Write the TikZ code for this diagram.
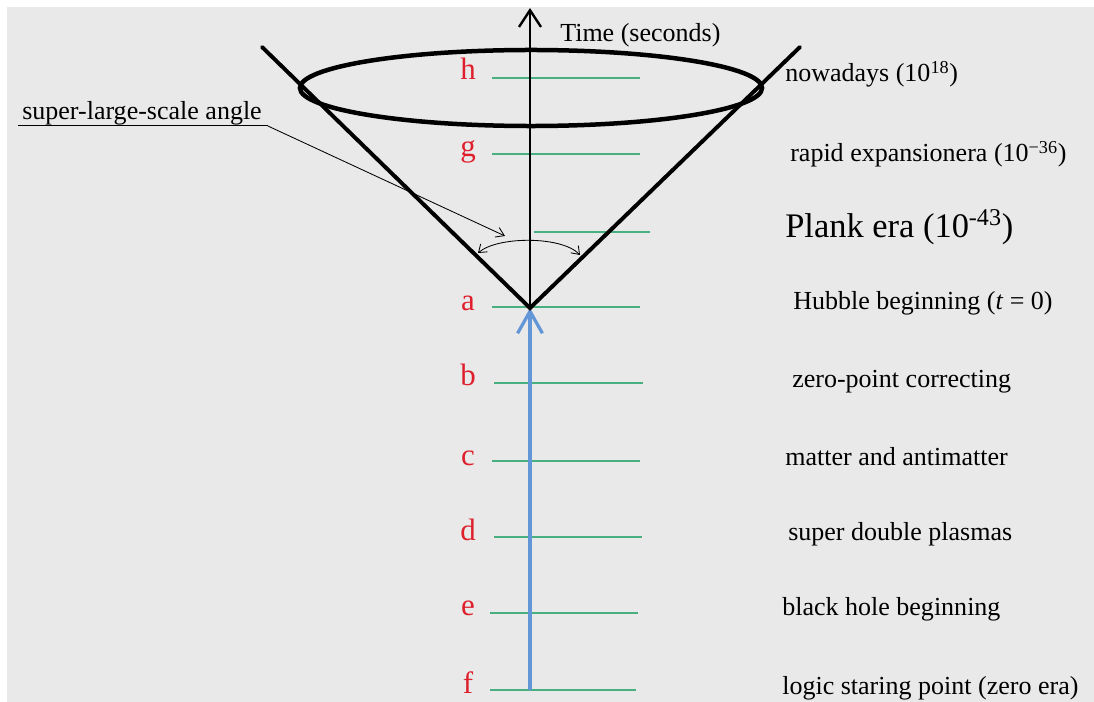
\documentclass[tikz,border=0pt]{standalone}
\usepackage{fontspec}
\setmainfont{Liberation Serif}
\usetikzlibrary{arrows.meta}
\definecolor{bggray}{RGB}{233,233,233}
\definecolor{eragreen}{RGB}{72,176,128}
\definecolor{erared}{RGB}{222,32,45}
\definecolor{flowblue}{RGB}{98,150,214}
\tikzset{
    era/.style={eragreen, line width=1.6pt},
    letter/.style={erared, anchor=base, inner sep=0pt, font=\fontsize{22}{26}\selectfont},
    event/.style={anchor=base west, inner sep=0pt, font=\fontsize{18.5}{22}\selectfont},
    cone/.style={line width=2.8pt, line cap=round},
    pointer/.style={line width=0.6pt, -{Straight Barb[length=2mm,width=2.6mm]}},
}

\begin{document}
\begin{tikzpicture}[x=0.025cm, y=-0.025cm]
    % paper
    \useasboundingbox (0,0) rectangle (1094,702);
    \fill[white] (0,0) rectangle (1094,702);
    \fill[bggray] (7,7) rectangle (1094,702);
    % named points of the cone
    \coordinate (apex) at (530,308);
    \coordinate (top) at (530,8);
    \coordinate (coneL) at (262,47);
    \coordinate (coneR) at (800,47);
    \coordinate (start) at (530,690);

    % era lines
    \draw[era] (492,78) -- (640,78);
    \draw[era] (492,154) -- (640,154);
    \draw[era] (534,232) -- (650,232);
    \draw[era] (492,307) -- (640,307);
    \draw[era] (494,383) -- (643,383);
    \draw[era] (492,461) -- (640,461);
    \draw[era] (494,537) -- (642,537);
    \draw[era] (490,613) -- (638,613);
    \draw[era] (490,690) -- (636,690);

    % era letters
    \node[letter] (h) at (468,80) {h};
    \node[letter] (g) at (468,157) {g};
    \node[letter] (a) at (468,311) {a};
    \node[letter] (b) at (468,386) {b};
    \node[letter] (c) at (468,465) {c};
    \node[letter] (d) at (468,540) {d};
    \node[letter] (e) at (468,615) {e};
    \node[letter] (f) at (468,693) {f};

    % before the beginning
    \draw[flowblue, line width=2.3pt, -{Straight Barb[length=0.55cm,width=0.62cm]}] (start) -- (apex);

    % light cone
    \draw[line width=1.7pt, -{Straight Barb[length=0.42cm,width=0.55cm]}] (apex) -- (top);
    \draw[cone] (coneL) -- (apex) -- (coneR);
    \draw[line width=3.2pt] (531,88) ellipse [x radius=5.775cm, y radius=0.95cm];

    % angle
    \draw[line width=0.6pt, {Straight Barb[length=1.8mm,width=2.6mm]}-{Straight Barb[length=1.8mm,width=2.6mm]}]
        (478,253) .. controls (498,236) and (562,236) .. (580,255);
    \node[event] (angle) at (22,120) {super-large-scale angle};
    \draw[line width=0.6pt] ([xshift=-3pt]angle.south west) -- ([xshift=4pt]angle.south east) coordinate (hook);
    \coordinate (arcTip) at (505,236);
    \draw[pointer] (hook) -- (arcTip);

    % texts
    \node[event] (time) at (560,42) {Time (seconds)};
    \node[event] (now) at (785,82) {nowadays (10\textsuperscript{18})};
    \node[event] (rapid) at (790,162) {rapid expansionera (10\textsuperscript{−36})};
    \node[event, font=\fontsize{24.5}{28}\selectfont] (plank) at (785,238) {Plank era (10\textsuperscript{-43})};
    \node[event] (hubble) at (793,310) {Hubble beginning (\textit{t} = 0)};
    \node[event] (zero) at (792,388) {zero-point correcting};
    \node[event] (matter) at (785,465) {matter and antimatter};
    \node[event] (plasma) at (788,540) {super double plasmas};
    \node[event] (hole) at (782,615) {black hole beginning};
    \node[event] (logic) at (782,694) {logic staring point (zero era)};
\end{tikzpicture}
\end{document}
